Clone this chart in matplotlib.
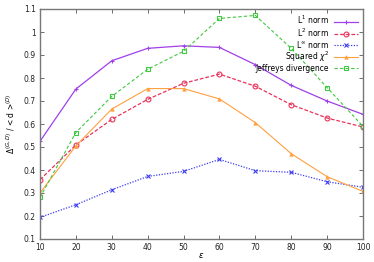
import matplotlib
matplotlib.use("Agg")
import matplotlib.pyplot as plt

eps = [10, 20, 30, 40, 50, 60, 70, 80, 90, 100]
l1 = [0.525, 0.752, 0.875, 0.929, 0.940, 0.933, 0.858, 0.768, 0.700, 0.642]
l2 = [0.358, 0.509, 0.620, 0.707, 0.777, 0.817, 0.764, 0.684, 0.626, 0.587]
linf = [0.194, 0.249, 0.314, 0.372, 0.394, 0.446, 0.397, 0.390, 0.349, 0.325]
chi2 = [0.300, 0.505, 0.665, 0.754, 0.754, 0.709, 0.606, 0.471, 0.371, 0.307]
jeff = [0.281, 0.563, 0.720, 0.838, 0.916, 1.059, 1.072, 0.929, 0.758, 0.590]

labels = [r"L$^1$ norm", r"L$^2$ norm", r"L$^\infty$ norm", r"Squared $\chi^2$", "Jeffreys divergence"]

fig = plt.figure(figsize=(3.74, 2.62), dpi=100)
ax = fig.add_axes([40/374, 1 - 239/262, (363-40)/374, (239-9)/262])

ax.plot(eps, l1, color="#a040e8", ls="-", lw=0.9, marker="+", ms=3.5, mew=0.8, label=labels[0])
ax.plot(eps, l2, color="#e8335a", ls=(0, (3, 1.5)), lw=0.9, marker="o", ms=3.5, mfc="none", mew=0.8, label=labels[1])
ax.plot(eps, linf, color="#3c3cf0", ls=(0, (1, 1.2)), lw=0.9, marker="x", ms=3.2, mew=0.8, label=labels[2])
ax.plot(eps, chi2, color="#ffa040", ls="-", lw=0.8, marker="^", ms=2.5, mew=0.5, label=labels[3])
ax.plot(eps, jeff, color="#40c840", ls=(0, (3, 2)), lw=0.8, marker="s", ms=3.5, mfc="none", mew=0.8, label=labels[4])

ax.set_xlim(10, 100)
ax.set_ylim(0.1, 1.1)
ax.set_xticks(eps)
yt = [0.1, 0.2, 0.3, 0.4, 0.5, 0.6, 0.7, 0.8, 0.9, 1.0, 1.1]
ax.set_yticks(yt)
ax.set_yticklabels(["0.1", "0.2", "0.3", "0.4", "0.5", "0.6", "0.7", "0.8", "0.9", "1", "1.1"])
ax.tick_params(direction="in", top=True, right=True, labelsize=5.5, length=3, width=0.6, colors="#555555", labelcolor="#222222", pad=3)
for s in ax.spines.values():
    s.set_color("#777777")
    s.set_linewidth(1.0)

ax.set_xlabel(r"$\epsilon$", fontsize=6)
ax.xaxis.set_label_coords((201-40)/(363-40), -(255-239)/(239-9))
ax.xaxis.label.set_va("center")
ax.set_ylabel(r"$\Delta^{(G,D)}$ / < d >$^{(D)}$", fontsize=5.5)
ax.yaxis.set_label_coords(-(40-17)/(363-40), 0.5)

leg = ax.legend(loc="upper right", frameon=False, fontsize=5.5, markerfirst=False,
                handlelength=3.2, labelspacing=0.0, borderaxespad=0.25, handletextpad=0.6)

fig.savefig("out.png", dpi=100)
